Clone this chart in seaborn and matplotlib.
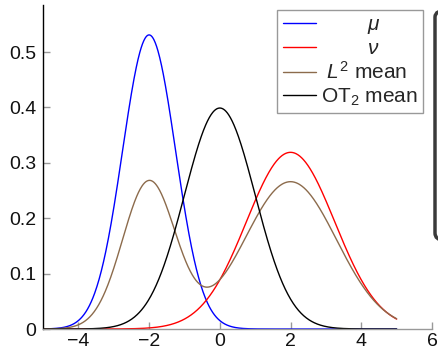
import numpy as np
import pandas as pd
import seaborn as sns
import matplotlib.pyplot as plt
from matplotlib.patches import FancyBboxPatch

# curve shapes: centre, peak height, width of each bump
names = ['$\\mu$', '$\\nu$', '$L^2$ mean', 'OT$_2$ mean']
mu_bump = [(-2.0, 0.531, 0.75)]
nu_bump = [(2.0, 0.319, 1.25)]
l2_bumps = [(-2.0, 0.266, 0.75), (2.0, 0.266, 1.3)]
ot_bump = [(0.0, 0.399, 1.0)]
colors = ['#0000ff', '#ff0000', '#8c6b4c', '#000000']
x_ticks = [-4, -2, 0, 2, 4, 6]
y_ticks = [0, 0.1, 0.2, 0.3, 0.4, 0.5]

x = np.linspace(-5, 5, 801)


def curve(bumps):
    return sum(h * np.exp(-0.5 * ((x - m) / s) ** 2) for m, h, s in bumps)


df = pd.concat([
    pd.DataFrame({'x': x, 'y': curve(b), 'curve': n})
    for n, b in zip(names, [mu_bump, nu_bump, l2_bumps, ot_bump])
])

sns.set_style('ticks')
plt.rcParams['font.family'] = ['Liberation Sans', 'DejaVu Sans']
plt.rcParams['mathtext.fontset'] = 'custom'
plt.rcParams['mathtext.rm'] = 'Liberation Sans'
plt.rcParams['mathtext.it'] = 'Liberation Sans:italic'

fig = plt.figure(figsize=(4.38, 3.53), dpi=100)
ax = fig.add_axes([43 / 438, 24 / 353, 389 / 438, 324 / 353])

sns.lineplot(data=df, x='x', y='y', hue='curve', palette=dict(zip(names, colors)),
             linewidth=1.0, ax=ax, legend=False)

ax.set_xlim(-5, 6)
ax.set_ylim(0, 0.585)
ax.set_xticks(x_ticks)
ax.set_xticklabels(['\u2212' + str(-t) if t < 0 else str(t) for t in x_ticks])
ax.set_yticks(y_ticks)
ax.set_yticklabels(['0'] + [f'{t:.1f}' for t in y_ticks[1:]])
ax.set_xlabel('')
ax.set_ylabel('')
ax.tick_params(direction='in', length=5, color='#999999', labelsize=14, width=1,
               labelcolor='#111111')
ax.tick_params(axis='x', pad=3)
ax.tick_params(axis='y', pad=5)
for s in ['top', 'right']:
    ax.spines[s].set_visible(False)
ax.spines['left'].set_color('black')
ax.spines['left'].set_linewidth(1.0)
ax.spines['bottom'].set_color('#999999')
ax.spines['bottom'].set_linewidth(1.0)

handles = [plt.Line2D([], [], color=c, lw=1.0) for c in colors]
labels = ['        $\\mu$', '        $\\nu$', ' $L^2$ mean', 'OT$_2$ mean']
leg = ax.legend(handles, labels, loc='upper right', bbox_to_anchor=(0.977, 0.985),
                frameon=True, fancybox=False, edgecolor='#808080', fontsize=15,
                handlelength=1.6, handletextpad=0.25, borderpad=0.25, labelspacing=0.15,
                borderaxespad=0.0)
leg.get_frame().set_linewidth(1.0)

# cropped panel at the right edge
fig.patches.append(FancyBboxPatch((435 / 438, 113 / 353), 0.05, 230 / 353,
                                  boxstyle='round,pad=0,rounding_size=0.02',
                                  transform=fig.transFigure, facecolor='none',
                                  edgecolor='#3a3a3a', linewidth=2.5, figure=fig))

fig.savefig('out.png', dpi=100)
